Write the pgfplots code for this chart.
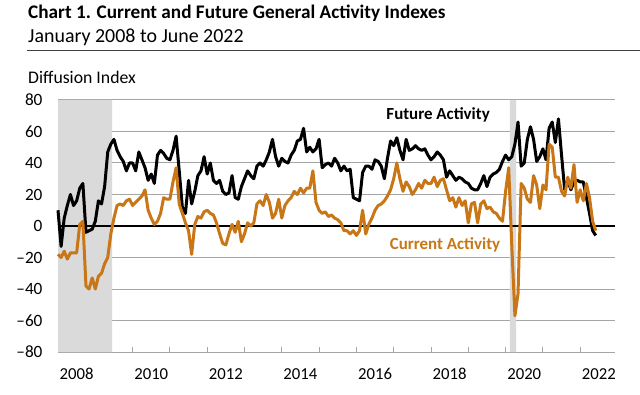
\documentclass[border=0pt]{standalone}
\usepackage{pgfplots}
\usepackage{pgfplotstable}
\pgfplotsset{compat=1.18}
\usepackage{fontspec}
\setmainfont{Carlito}
\definecolor{curr}{RGB}{200,118,22}
\definecolor{shade}{RGB}{218,218,218}
\definecolor{gridc}{RGB}{165,165,165}

% m = months since January 2008; cur = current activity; fut = future activity
\pgfplotstableread{
m cur fut
0 -18 10
1 -20 -13
2 -16 5
3 -21 13
4 -17 20
5 -17 13
6 -17 16
7 1 24
8 3 27
9 -38 -4
10 -40 -3
11 -33 -2
12 -40 3
13 -32 16
14 -30 14
15 -24 25
16 -20 47
17 -5 52
18 5 55
19 13 48
20 14 44
21 13 41
22 16 35
23 17 40
24 13 40
25 15 35
26 17 47
27 19 42
28 23 37
29 10 29
30 5 33
31 1 27
32 3 45
33 8 48
34 18 46
35 17 43
36 17 42
37 28 48
38 37 57
39 14 35
40 8 12
41 2 8
42 -3 29
43 -18 14
44 1 22
45 6 32
46 5 35
47 9 44
48 10 33
49 8 40
50 7 29
51 2 27
52 -5 29
53 -11 22
54 -12 20
55 -5 21
56 1 32
57 -4 18
58 3 17
59 -10 25
60 -5 30
61 2 35
62 0 32
63 2 30
64 14 38
65 16 40
66 13 38
67 20 42
68 15 47
69 5 55
70 8 44
71 17 38
72 5 43
73 13 41
74 16 40
75 18 45
76 22 48
77 20 54
78 24 55
79 21 62
80 24 47
81 24 50
82 35 47
83 15 49
84 10 55
85 8 37
86 9 39
87 6 40
88 7 38
89 5 43
90 4 40
91 2 35
92 -3 38
93 -3 35
94 -5 36
95 -3 18
96 -6 17
97 -3 16
98 10 34
99 -5 38
100 1 38
101 5 36
102 10 42
103 13 41
104 14 38
105 16 30
106 19 43
107 23 54
108 30 51
109 40 56
110 30 48
111 22 42
112 28 55
113 25 48
114 20 49
115 23 51
116 27 49
117 24 48
118 29 49
119 27 45
120 27 42
121 31 44
122 25 47
123 29 45
124 30 42
125 23 31
126 16 35
127 18 32
128 12 29
129 18 31
130 13 30
131 16 28
132 2 27
133 14 24
134 15 23
135 2 23
136 14 27
137 16 32
138 11 25
139 12 31
140 9 33
141 8 34
142 5 36
143 3 41
144 22 45
145 37 42
146 -13 44
147 -57 52
148 -43 66
149 27 38
150 24 40
151 17 55
152 15 63
153 32 55
154 26 41
155 11 44
156 26 49
157 23 42
158 52 62
159 50 66
160 31 53
161 31 68
162 22 45
163 19 23
164 31 29
165 24 23
166 39 28
167 15 29
168 23 28
169 16 28
170 27 18
171 18 8
172 3 -3
173 -3 -6
}\datatable

\begin{document}
\begin{tikzpicture}[x=1bp,y=1bp]
\path[use as bounding box] (0,0) rectangle (640,394);
\node[anchor=base west, inner sep=0pt, font=\bfseries\fontsize{19.3}{22}\selectfont] at (28,375.5) {Chart 1. Current and Future General Activity Indexes};
\node[anchor=base west, inner sep=0pt, font=\fontsize{20}{23}\selectfont] at (28,351.3) {January 2008 to June 2022};
\draw[line width=1.2bp, black!75] (27,343.5) -- (640,343.5);
\node[anchor=base west, inner sep=0pt, font=\fontsize{17.8}{20}\selectfont] at (28,310.7) {Diffusion Index};
\begin{axis}[
  at={(58bp,42bp)}, anchor=south west,
  scale only axis, width=557bp, height=252bp,
  xmin=0, xmax=179.2, ymin=-80, ymax=80,
  axis x line*=bottom, axis y line*=left,
  y axis line style={draw=none},
  x axis line style={draw=gridc, line width=1bp},
  ytick={-80,-60,...,80},
  yticklabels={–80,–60,–40,–20,0,20,40,60,80},
  ytick style={draw=none},
  ymajorgrids, grid style={gridc, line width=1bp},
  xtick={0,12,...,168}, xticklabels={},
  xtick style={gridc, line width=1bp},
  tick align=inside, major tick length=5bp,
  extra x ticks={6,30,54,78,102,126,150,174},
  extra x tick labels={2008,2010,2012,2014,2016,2018,2020,2022},
  extra x tick style={major tick length=0pt, grid=none},
  /pgf/number format/assume math mode=true,
  ticklabel style={font=\fontsize{16.8}{20}\selectfont, black},
  xticklabel style={yshift=-13bp},
  yticklabel style={xshift=-12bp, font=\fontsize{17.3}{20}\selectfont},
  clip=false,
]
\addplot[fill=shade, draw=none] coordinates {(0,-80) (0,80) (17.4,80) (17.4,-80) (0,-80)};
\addplot[fill=shade, draw=none] coordinates {(145.4,-80) (145.4,80) (147.4,80) (147.4,-80) (145.4,-80)};
\addplot[black, line width=1.4bp] coordinates {(0,0) (179.2,0)};
\addplot[black, line width=3bp, line join=round] table[x=m, y=fut] {\datatable};
\addplot[curr, line width=3bp, line join=round] table[x=m, y=cur] {\datatable};
\node[font=\bfseries\fontsize{17}{20}\selectfont, black] at (axis cs:122.3,70.4) {Future Activity};
\node[font=\bfseries\fontsize{17}{20}\selectfont, curr] at (axis cs:124.5,-12.3) {Current Activity};
\end{axis}
\end{tikzpicture}
\end{document}
